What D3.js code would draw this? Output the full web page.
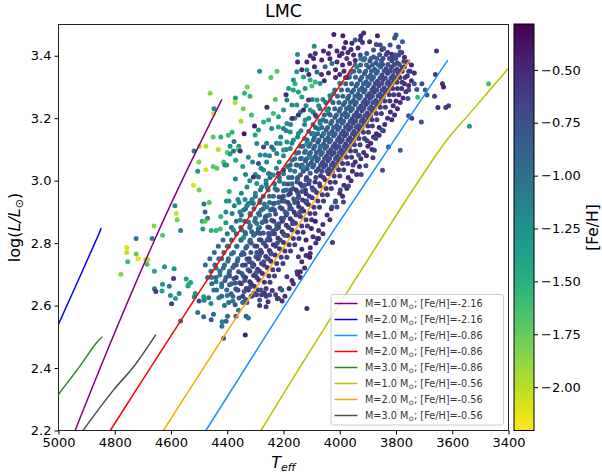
<!DOCTYPE html>
<html>
<head>
<meta charset="utf-8">
<script src="https://cdnjs.cloudflare.com/ajax/libs/d3/7.8.5/d3.min.js"></script>
<style>
    html, body { margin: 0; padding: 0; background: #fff; }
    svg { display: block; }
    text { font-family: "DejaVu Sans", sans-serif; fill: #000; }
    .domain { display: none; }
</style>
</head>
<body>
<svg id="chart" width="602" height="475"></svg>
<script>
const tempTicks = [5000, 4800, 4600, 4400, 4200, 4000, 3800, 3600, 3400];
const lumTicks = [2.2, 2.4, 2.6, 2.8, 3.0, 3.2, 3.4];
const fehTicks = [-0.5, -0.75, -1.0, -1.25, -1.5, -1.75, -2.0];

// evolutionary tracks, [teff, logL]
const track10m216 = [[4941, 2.2], [4804, 2.505], [4656, 2.815], [4561, 3.0], [4419, 3.26]];
const track20m216 = [[5000, 2.54], [4858, 2.826], [4848, 2.848]];
const track10m086 = [[4476, 2.2], [4141, 2.676], [4043, 2.812], [3830, 3.098], [3616, 3.386]];
const track20m086 = [[4816, 2.2], [4591, 2.516], [4366, 2.826], [4141, 3.119], [3951, 3.368]];
const track30m086 = [[5000, 2.316], [4930, 2.399], [4864, 2.482], [4844, 2.5]];
const track10m056 = [[4280, 2.2], [4141, 2.404], [3844, 2.826], [3726, 2.99], [3619, 3.13], [3536, 3.217], [3400, 3.36]];
const track20m056 = [[4627, 2.2], [4378, 2.548], [4170, 2.826], [3980, 3.087], [3750, 3.388]];
const track30m056 = [[4913, 2.2], [4804, 2.33], [4733, 2.404], [4654, 2.507]];

const trackNames = ['1.0|-2.16', '2.0|-2.16', '1.0|-0.86', '2.0|-0.86', '3.0|-0.86', '1.0|-0.56', '2.0|-0.56', '3.0|-0.56'];
const trackColors = ['#800080', '#0000ff', '#1e90ff', '#ff0000', '#228b22', '#bfbf00', '#ffa500', '#4d4d4d'];

// crowded part of the ridge, one list per metallicity, [teff, logL]
const ridgeDeep = [
    [3850, 3.42], [3830, 3.41], [3815, 3.405], [3780, 3.41], [3770, 3.395], [3760, 3.38], [3745, 3.37], [3770, 3.365], [3750, 3.35],
    [3735, 3.345], [3760, 3.335], [3745, 3.32], [3770, 3.31], [3755, 3.305], [3780, 3.295], [3765, 3.285], [3790, 3.275], [3775, 3.265],
    [3800, 3.255], [3785, 3.25], [3810, 3.24], [3795, 3.23], [3820, 3.22], [3805, 3.21], [3830, 3.2], [3815, 3.195], [3840, 3.18],
    [3860, 3.17], [3845, 3.16], [3870, 3.15], [3880, 3.14], [3860, 3.145], [3890, 3.12], [3900, 3.11], [3885, 3.10], [3915, 3.09],
    [3905, 3.08], [3925, 3.07], [3945, 3.06], [3930, 3.045], [3955, 3.03], [3940, 3.02], [3970, 3.01], [3960, 3.0], [3985, 2.985],
    [3975, 2.975], [4000, 2.96], [3990, 2.95], [4015, 2.935], [4030, 2.91], [4045, 2.89], [4035, 2.875], [4060, 2.86], [4075, 2.84],
    [4060, 2.83], [4095, 2.82], [4085, 2.80], [4105, 2.785], [4120, 2.76], [4135, 2.74], [4125, 2.72], [4150, 2.70], [4140, 2.69],
    [4165, 2.67], [4180, 2.655], [4195, 2.63], [4205, 2.615]
];
const ridgeLower = [
    [4040, 3.022], [4068, 3.016], [4052, 3.003], [4088, 2.996], [4070, 2.983], [4098, 2.977], [4082, 2.962], [4120, 2.958], [4098, 2.945],
    [4132, 2.938], [4112, 2.924], [4146, 2.917], [4128, 2.903], [4162, 2.899], [4140, 2.885], [4176, 2.878], [4158, 2.864], [4190, 2.857],
    [4170, 2.842], [4205, 2.836], [4186, 2.824], [4220, 2.816], [4200, 2.802], [4236, 2.795], [4214, 2.782], [4250, 2.776], [4230, 2.762],
    [4263, 2.757], [4245, 2.742], [4278, 2.735], [4258, 2.722], [4292, 2.716], [4275, 2.703], [4306, 2.696], [4288, 2.682], [4320, 2.676],
    [4304, 2.662], [4332, 2.655], [4268, 2.64], [4240, 2.648], [4296, 2.635], [4222, 2.622], [4255, 2.612]
];
const ridgeRight = [
    [3790, 3.402], [3812, 3.397], [3835, 3.404], [3772, 3.382], [3795, 3.377], [3815, 3.384], [3778, 3.362], [3797, 3.357], [3816, 3.364],
    [3835, 3.358], [3792, 3.342], [3811, 3.337], [3830, 3.344], [3850, 3.338], [3808, 3.322], [3827, 3.317], [3846, 3.324], [3866, 3.318],
    [3822, 3.302], [3842, 3.297], [3861, 3.304], [3880, 3.298], [3838, 3.282], [3857, 3.277], [3877, 3.284], [3895, 3.278], [3852, 3.262],
    [3872, 3.257], [3892, 3.264], [3910, 3.258], [3868, 3.242], [3888, 3.237], [3907, 3.244], [3925, 3.238], [3884, 3.222], [3902, 3.217],
    [3921, 3.224], [3940, 3.218], [3899, 3.202], [3918, 3.197], [3937, 3.204], [3956, 3.198], [3914, 3.182], [3933, 3.177], [3952, 3.184],
    [3971, 3.178], [3930, 3.162], [3949, 3.157], [3968, 3.164], [3987, 3.158], [3945, 3.142], [3964, 3.137], [3983, 3.144], [4002, 3.138],
    [3960, 3.122], [3979, 3.117], [3998, 3.124], [4017, 3.118], [3975, 3.102], [3994, 3.097], [4013, 3.104], [4032, 3.098], [3990, 3.082],
    [4009, 3.077], [4028, 3.084], [4047, 3.078], [4004, 3.062], [4023, 3.057], [4042, 3.064], [4061, 3.058], [4019, 3.042], [4038, 3.037],
    [4057, 3.044], [4076, 3.038]
];
const ridgeMiddle = [
    [3858, 3.403], [3880, 3.396], [3852, 3.384], [3872, 3.377], [3893, 3.383], [3855, 3.364], [3876, 3.357], [3897, 3.363], [3870, 3.344],
    [3891, 3.337], [3912, 3.343], [3886, 3.324], [3906, 3.317], [3927, 3.323], [3901, 3.304], [3921, 3.297], [3942, 3.303], [3915, 3.284],
    [3936, 3.277], [3957, 3.283], [3931, 3.264], [3951, 3.257], [3972, 3.263], [3946, 3.244], [3966, 3.237], [3987, 3.243], [3961, 3.224],
    [3981, 3.217], [4002, 3.223], [3976, 3.204], [3996, 3.197], [4017, 3.203], [3991, 3.184], [4011, 3.177], [4032, 3.183], [4007, 3.164],
    [4027, 3.157], [4048, 3.163], [4022, 3.144], [4042, 3.137], [4063, 3.143], [4037, 3.124], [4057, 3.117], [4078, 3.123], [4052, 3.104],
    [4072, 3.097], [4093, 3.103], [4067, 3.084], [4087, 3.077], [4108, 3.083], [4081, 3.064], [4101, 3.057], [4122, 3.063], [4096, 3.044],
    [4116, 3.037], [4137, 3.043],
    [4105, 3.024], [4140, 3.018], [4170, 3.01], [4120, 3.003], [4152, 2.996], [4184, 2.989], [4134, 2.982], [4166, 2.975], [4200, 2.968],
    [4150, 2.962], [4182, 2.955], [4216, 2.948], [4164, 2.941], [4196, 2.934], [4232, 2.928], [4178, 2.921], [4212, 2.914], [4246, 2.907],
    [4194, 2.9], [4228, 2.893], [4260, 2.887], [4208, 2.88], [4242, 2.873], [4276, 2.866], [4224, 2.859], [4256, 2.852], [4290, 2.846],
    [4238, 2.839], [4272, 2.832], [4306, 2.825], [4252, 2.818], [4286, 2.811], [4320, 2.805], [4268, 2.798], [4302, 2.791], [4334, 2.784],
    [4282, 2.777], [4316, 2.77], [4350, 2.763], [4298, 2.756], [4330, 2.749], [4364, 2.743], [4312, 2.736], [4346, 2.729], [4380, 2.722],
    [4326, 2.715], [4360, 2.708], [4394, 2.701], [4342, 2.694], [4376, 2.687], [4408, 2.68], [4356, 2.673], [4392, 2.667], [4318, 2.66],
    [4370, 2.653], [4340, 2.645], [4386, 2.638], [4310, 2.632], [4358, 2.624], [4285, 2.618], [4330, 2.61], [4372, 2.603]
];
const ridgeTeal = [
    [3925, 3.39], [3945, 3.37], [3960, 3.35], [3980, 3.33], [4000, 3.312], [4018, 3.29], [4035, 3.272], [4050, 3.25], [4070, 3.23],
    [4040, 3.215], [4082, 3.205], [4060, 3.195], [4095, 3.18], [4075, 3.165], [4110, 3.158], [4090, 3.14], [4125, 3.135], [4105, 3.118],
    [4140, 3.11], [4122, 3.095], [4155, 3.088], [4136, 3.072], [4170, 3.065], [4150, 3.05], [4186, 3.045], [4160, 3.03], [4200, 3.022],
    [4214, 2.998], [4230, 2.975], [4250, 2.95], [4268, 2.925], [4280, 2.905], [4300, 2.88], [4318, 2.856], [4336, 2.834], [4352, 2.81],
    [4366, 2.79], [4385, 2.765], [4398, 2.742], [4414, 2.72], [4426, 2.698], [4440, 2.676], [4420, 2.66], [4448, 2.65], [4400, 2.632],
    [4430, 2.625], [4466, 2.625], [4380, 2.615], [4410, 2.6], [4360, 2.585], [4455, 2.69], [4420, 2.75], [4395, 2.79], [4440, 2.72]
];

// second pass over the same area, read row by row, [logL, [teff, ...]]
const fillCoreDark = [
    [3.391, [3801, 3823, 3846]], [3.372, [3788, 3806, 3829, 3848]], [3.351, [3786, 3805, 3821, 3842]], [3.329, [3801, 3818, 3838, 3857]],
    [3.311, [3813, 3832, 3851, 3874]], [3.29, [3828, 3849, 3868, 3886]], [3.271, [3845, 3864, 3884, 3903]], [3.25, [3859, 3881, 3899, 3917]],
    [3.231, [3876, 3894, 3914, 3933]], [3.209, [3890, 3910, 3928, 3949]], [3.19, [3905, 3924, 3944, 3963]], [3.171, [3921, 3941, 3960, 3979]],
    [3.15, [3936, 3955, 3976, 3995]], [3.13, [3951, 3971, 3991, 4008]], [3.109, [3966, 3985, 4004, 4024]], [3.09, [3982, 4001, 4020, 4041]],
    [3.071, [3996, 4015, 4036, 4054]], [3.05, [4011, 4030, 4050, 4068]], [3.03, [4026, 4045, 4064, 4083]]
];
const fillCoreBlue = [
    [3.391, [3868, 3889, 3911]], [3.37, [3862, 3884, 3905, 3926]], [3.35, [3866, 3887, 3908, 3930, 3950]], [3.331, [3880, 3900, 3922, 3944, 3966]],
    [3.31, [3895, 3916, 3937, 3958, 3979]], [3.29, [3910, 3930, 3951, 3972, 3994]], [3.27, [3926, 3946, 3968, 3989, 4008]],
    [3.25, [3941, 3962, 3982, 4003, 4024]], [3.23, [3955, 3976, 3998, 4018, 4040]], [3.21, [3971, 3992, 4012, 4034, 4055]],
    [3.19, [3986, 4006, 4028, 4049, 4070]], [3.17, [4001, 4022, 4043, 4064, 4086]], [3.15, [4016, 4038, 4058, 4079, 4100]],
    [3.13, [4032, 4052, 4074, 4094, 4116]], [3.11, [4046, 4068, 4089, 4110, 4131]], [3.09, [4062, 4083, 4104, 4125, 4146]],
    [3.07, [4076, 4098, 4118, 4140, 4160]], [3.05, [4092, 4112, 4134, 4155, 4176]]
];
const fillOrange = [
    [3.35, [3755, 3778]], [3.33, [3768, 3786]], [3.315, [3778, 3796]], [3.295, [3795, 3812]], [3.275, [3808, 3824]], [3.255, [3822, 3840]],
    [3.235, [3838, 3856]], [3.215, [3852, 3870]], [3.195, [3868, 3886]], [3.175, [3884, 3900]], [3.155, [3898, 3916]], [3.135, [3912, 3932]],
    [3.115, [3928, 3948]], [3.095, [3944, 3962]], [3.075, [3958, 3976]], [3.055, [3972, 3990]], [3.035, [3986, 4004]], [3.015, [4000, 4020]],
    [2.995, [4016, 4034]], [2.975, [4030, 4048]], [2.955, [4044, 4062]], [2.935, [4058, 4078]], [2.915, [4072, 4092]], [2.895, [4088, 4106]],
    [2.875, [4100, 4120]], [2.855, [4115, 4135]], [2.835, [4130, 4150]], [2.815, [4145, 4165]], [2.795, [4160, 4180]], [2.775, [4175, 4195]],
    [2.755, [4188, 4208]], [2.735, [4202, 4224]], [2.715, [4218, 4238]], [2.695, [4232, 4252]], [2.675, [4248, 4268]], [2.655, [4262, 4212]],
    [2.635, [4228, 4278]]
];
const fillLowerDark = [
    [3.01, [4058, 4085, 4118]], [2.99, [4072, 4110, 4140]], [2.97, [4090, 4122, 4155]], [2.95, [4108, 4146]], [2.93, [4120, 4150, 4184]],
    [2.91, [4135, 4172, 4205]], [2.89, [4155, 4190]], [2.87, [4168, 4204, 4235]], [2.85, [4182, 4218, 4250]], [2.83, [4200, 4232]],
    [2.81, [4212, 4248, 4280]], [2.79, [4228, 4262, 4295]], [2.77, [4246, 4278]], [2.75, [4255, 4290, 4322]], [2.73, [4270, 4305, 4336]],
    [2.71, [4285, 4320]], [2.69, [4295, 4335, 4368]], [2.67, [4315, 4350]], [2.65, [4290, 4325, 4362]], [2.63, [4262, 4315, 4345]]
];
const fillLowerBlue = [
    [3.01, [4150, 4182, 4215, 4248]], [2.99, [4170, 4198, 4232, 4262]], [2.97, [4190, 4222, 4255, 4282]], [2.95, [4200, 4236, 4272, 4300]],
    [2.93, [4218, 4250, 4285, 4315]], [2.91, [4238, 4272, 4305, 4335]], [2.89, [4250, 4285, 4318, 4350]], [2.87, [4270, 4302, 4338, 4368]],
    [2.85, [4285, 4320, 4352, 4385]], [2.83, [4300, 4335, 4368, 4400]], [2.81, [4318, 4350, 4385, 4415]], [2.79, [4330, 4366, 4400, 4432]],
    [2.77, [4345, 4378, 4412, 4446]], [2.75, [4362, 4396, 4430, 4462]], [2.73, [4375, 4410, 4444, 4478]], [2.71, [4392, 4426, 4458]],
    [2.69, [4405, 4440, 4470]], [2.67, [4385, 4420, 4455]], [2.65, [4402, 4438]], [2.63, [4380, 4420]], [2.61, [4345, 4395]]
];
const fillLeftTeal = [
    [3.26, [4060, 4098]], [3.24, [4075, 4120]], [3.22, [4095, 4140]], [3.2, [4110, 4160]], [3.18, [4125, 4175]], [3.16, [4138, 4190]],
    [3.14, [4150, 4210]], [3.12, [4170, 4225, 4260]], [3.1, [4190, 4235]], [3.08, [4200, 4250]], [3.06, [4215, 4260, 4310]], [3.04, [4225, 4280]],
    [3.02, [4245, 4300, 4335]], [3.0, [4262, 4320]], [2.98, [4278, 4330]], [2.96, [4300, 4350]], [2.94, [4312, 4362]], [2.92, [4330, 4375]],
    [2.9, [4355, 4405]]
];
const topDark = [
    [3935, 3.425], [3960, 3.42], [3985, 3.425], [4010, 3.415], [4035, 3.39], [3945, 3.385], [3965, 3.375], [3990, 3.37], [4015, 3.355], [4040, 3.345],
    [4065, 3.34], [4090, 3.365], [4110, 3.34], [3985, 3.35], [4015, 3.33], [3975, 3.33], [4000, 3.34], [4135, 3.355], [4055, 3.32], [4150, 3.38]
];
const lowerScatter = [
    [4108, 3.0], [4135, 2.965], [4160, 2.93], [4188, 2.895], [4216, 2.862], [4245, 2.828], [4272, 2.8], [4295, 2.77], [4322, 2.74], [4348, 2.703],
    [4372, 2.672], [4150, 3.005], [4175, 2.97], [4205, 2.935], [4232, 2.905], [4262, 2.87], [4290, 2.835], [4315, 2.8], [4340, 2.765], [4368, 2.73],
    [4392, 2.695], [4305, 2.64], [4335, 2.62], [4280, 2.65], [4125, 2.985], [4148, 2.945], [4178, 2.91], [4200, 2.88], [4226, 2.845], [4258, 2.81],
    [4285, 2.76], [4310, 2.725], [4338, 2.68], [4365, 2.65], [4130, 3.03], [4095, 2.97], [4118, 2.935], [4142, 2.9], [4168, 2.862], [4196, 2.825],
    [4222, 2.8], [4244, 2.765], [4270, 2.74], [4298, 2.705]
];

// stars that can be told apart, [teff, logL, [Fe/H]]
const looseStars = [
    [4461, 3.28, -1.85], [4447, 3.23, -1.2], [4449, 3.215, -2.1], [4371, 3.265, -1.4], [4372, 3.25, -2.0], [4339, 3.28, -1.55], [4329, 3.30, -1.8],
    [4319, 3.27, -1.55], [4343, 3.23, -1.8], [4314, 3.21, -1.6], [4351, 3.19, -1.95], [4285, 3.35, -1.2], [4245, 3.33, -1.7], [4223, 3.35, -1.7],
    [4229, 3.26, -1.7], [4191, 3.275, -0.5], [4259, 3.235, -0.5], [4303, 3.175, -0.4], [4340, 3.15, -0.4], [4383, 3.155, -1.5], [4396, 3.145, -1.6],
    [4423, 3.14, -1.5], [4450, 3.14, -1.7], [4518, 3.095, -1.05], [4499, 3.11, -2.0], [4476, 3.11, -2.0], [4432, 3.10, -2.0], [4376, 3.125, -1.0],
    [4390, 3.11, -1.3], [4359, 3.11, -1.3], [4361, 3.10, -1.7], [4354, 3.095, -0.5], [4400, 3.09, -1.7], [4390, 3.085, -1.35], [4378, 3.095, -1.0],
    [4501, 3.06, -1.85], [4413, 3.06, -1.65], [4370, 3.065, -1.4], [4450, 3.045, -1.7], [4437, 3.04, -1.7], [4476, 3.035, -2.1], [4505, 3.03, -1.3],
    [4409, 3.05, -1.2], [4402, 3.05, -1.3], [4345, 3.045, -1.4], [4325, 3.075, -1.2], [4520, 2.985, -2.1], [4500, 2.97, -1.8], [4371, 3.005, -1.2],
    [4393, 2.965, -1.5], [4403, 2.935, -1.3], [4394, 2.935, -1.3], [4358, 2.93, -1.2], [4337, 2.94, -1.2], [4464, 2.93, -1.7], [4483, 2.925, -1.05],
    [4479, 2.90, -0.9], [4586, 2.92, -1.2], [4581, 2.895, -2.05], [4578, 2.875, -1.8], [4470, 2.88, -1.15], [4489, 2.87, -1.4], [4479, 2.87, -1.7],
    [4423, 2.885, -1.5], [4405, 2.865, -1.3], [4383, 2.895, -1.1], [4487, 2.845, -1.3], [4457, 2.84, -1.5], [4440, 2.84, -1.55], [4425, 2.845, -1.6],
    [4566, 2.84, -1.15], [4660, 2.855, -1.85], [4630, 2.825, -1.7], [4724, 2.815, -1.1], [4667, 2.815, -1.1],
    [4757, 2.786, -2.1], [4757, 2.77, -2.05], [4724, 2.765, -1.75], [4754, 2.74, -1.6], [4717, 2.75, -2.1], [4690, 2.747, -1.95], [4682, 2.747, -2.0],
    [4685, 2.732, -1.6], [4778, 2.70, -1.85], [4659, 2.71, -1.4], [4623, 2.724, -1.3], [4589, 2.718, -1.3], [4591, 2.687, -0.6], [4659, 2.654, -1.05],
    [4654, 2.645, -0.6], [4630, 2.668, -1.3], [4632, 2.647, -1.35], [4606, 2.662, -1.1], [4602, 2.632, -1.3], [4584, 2.623, -1.4], [4598, 2.606, -0.6],
    [4571, 2.639, -1.2], [4546, 2.685, -1.35], [4537, 2.668, -1.5], [4530, 2.674, -1.45], [4540, 2.663, -1.4], [4514, 2.639, -1.3], [4517, 2.628, -1.2],
    [4500, 2.615, -0.7], [4484, 2.628, -1.3], [4482, 2.617, -1.1], [4458, 2.607, -1.2], [4505, 2.578, -1.0], [4484, 2.564, -0.9], [4457, 2.555, -0.8],
    [4449, 2.572, -0.9], [4566, 2.551, -1.05], [4418, 2.548, -1.1], [4419, 2.534, -1.05], [4404, 2.55, -0.9], [4399, 2.566, -0.9], [4369, 2.566, -0.8],
    [4333, 2.566, -0.85], [4325, 2.56, -1.0], [4336, 2.506, -0.45], [4413, 2.495, -0.8], [4262, 2.596, -0.6], [4285, 2.6, -0.55], [4206, 2.65, -0.9],
    [4218, 2.623, -0.65], [4250, 2.634, -0.7], [4188, 2.692, -0.6], [4170, 2.68, -0.5], [4152, 2.708, -0.6], [4147, 2.756, -0.6],
    [4021, 3.468, -0.45], [3989, 3.464, -0.45], [3915, 3.473, -0.5], [3925, 3.463, -0.5], [3866, 3.464, -0.45], [3800, 3.466, -0.75], [3805, 3.457, -0.75],
    [3777, 3.445, -0.85], [3979, 3.442, -0.45], [3957, 3.44, -0.5], [3945, 3.45, -0.8], [3927, 3.45, -0.5], [3919, 3.442, -0.6], [3894, 3.445, -0.55],
    [3870, 3.436, -0.7], [4091, 3.43, -1.2], [4034, 3.43, -0.5], [4058, 3.415, -0.5], [3971, 3.41, -0.5], [4001, 3.40, -0.5], [4087, 3.407, -0.55],
    [4105, 3.40, -0.5], [4117, 3.38, -0.5], [3656, 3.415, -0.55], [3660, 3.34, -0.6], [3635, 3.31, -0.55], [3631, 3.30, -0.45], [3663, 3.27, -0.6],
    [3651, 3.234, -0.5], [3623, 3.234, -0.6], [3613, 3.24, -0.6], [3708, 3.31, -0.8], [3696, 3.29, -0.85], [3723, 3.267, -1.6], [3690, 3.274, -0.85],
    [3710, 3.188, -0.8], [3735, 3.31, -0.85], [3726, 3.292, -0.8], [3755, 3.29, -0.7], [3758, 3.263, -0.7], [3744, 3.2, -0.6], [3755, 3.208, -0.75],
    [3785, 3.097, -0.85], [3827, 3.108, -0.9], [3848, 3.033, -0.7], [3924, 3.02, -0.7], [3907, 3.048, -0.7], [3877, 3.097, -0.6], [3882, 3.073, -0.6],
    [3872, 3.135, -0.7], [3850, 3.162, -0.8], [3903, 3.128, -0.6], [3933, 3.082, -0.8], [3953, 3.05, -0.6], [3969, 2.983, -0.7], [3987, 2.932, -0.7],
    [4016, 2.932, -0.8], [4010, 2.916, -0.7], [3998, 2.97, -0.7], [4028, 2.916, -0.7], [4087, 2.87, -0.4], [4101, 2.847, -0.45], [4075, 2.815, -0.6],
    [4026, 2.802, -0.6], [4079, 2.815, -0.5], [4105, 2.767, -0.5], [4107, 2.755, -0.45], [4117, 2.591, -0.5], [4135, 2.78, -0.5], [4140, 2.708, -0.5],
    [4120, 2.81, -0.45], [3471, 3.31, -1.65], [3539, 3.174, -1.3],
    [4295, 3.119, -1.2], [4271, 3.108, -0.7], [4242, 3.108, -0.9], [4212, 3.119, -1.2], [4188, 3.124, -1.3], [4165, 3.13, -1.2], [4283, 3.082, -1.2],
    [4265, 3.082, -1.2], [4224, 3.087, -1.1], [4200, 3.098, -1.3], [4176, 3.103, -1.2], [4289, 3.055, -0.7], [4307, 3.012, -0.5], [4289, 3.012, -1.0],
    [4271, 3.034, -1.2], [4253, 3.023, -1.0], [4236, 3.018, -1.2], [4218, 3.023, -0.55], [4200, 3.034, -0.6], [4176, 3.034, -1.1], [4295, 2.991, -1.3],
    [4259, 2.98, -1.1], [4224, 2.97, -0.9], [4325, 2.927, -1.1], [4307, 2.927, -1.0], [4283, 2.938, -1.0], [4259, 2.916, -1.1], [4236, 2.927, -0.8],
    [4206, 2.948, -0.7], [4176, 2.959, -0.6], [4342, 2.906, -1.1], [4319, 2.895, -1.05], [4289, 2.895, -0.9], [4265, 2.884, -0.8], [4354, 2.874, -1.15],
    [4325, 2.868, -1.0], [4295, 2.863, -1.0], [4378, 2.842, -1.2], [4348, 2.842, -1.1], [4313, 2.836, -0.9], [4283, 2.831, -0.8], [4253, 2.831, -0.7],
    [4342, 2.818, -1.2], [4165, 3.29, -1.4], [4182, 3.295, -1.35], [4159, 3.31, -1.5], [4188, 3.258, -1.1], [4170, 3.242, -1.2], [4200, 3.226, -1.3],
    [4218, 3.205, -1.4], [4236, 3.215, -1.6], [4271, 3.188, -1.5], [4253, 3.194, -1.45], [4289, 3.162, -1.25], [4301, 3.146, -1.4], [4242, 3.167, -1.2],
    [4218, 3.172, -1.4], [4188, 3.183, -1.2], [4170, 3.199, -0.5], [4147, 3.21, -0.55], [4153, 3.242, -1.2], [4147, 3.284, -1.35], [4153, 3.349, -1.3],
    [4150, 3.404, -1.2], [4165, 3.322, -1.3], [4200, 3.167, -1.05], [4176, 3.156, -1.3], [4147, 3.151, -1.2],
    [4129, 3.332, -1.4], [4105, 3.322, -1.5], [4087, 3.316, -1.55], [4070, 3.311, -1.3], [4099, 3.303, -1.65], [4123, 3.295, -1.25], [4081, 3.348, -0.95],
    [4117, 3.354, -1.2], [4052, 3.365, -0.9], [4028, 3.375, -1.0], [4064, 3.386, -0.5], [4093, 3.391, -0.5], [4010, 3.38, -0.5], [3975, 3.391, -0.6],
    [3951, 3.402, -0.55], [4040, 3.407, -0.5], [3992, 3.407, -0.5], [3927, 3.402, -0.75], [3904, 3.407, -0.8], [3880, 3.418, -0.75], [3844, 3.423, -0.8],
    [3821, 3.434, -0.75], [3856, 3.434, -0.7], [3791, 3.428, -0.7], [3785, 3.412, -0.75], [3803, 3.402, -0.8],
    [4022, 3.279, -1.2], [4034, 3.258, -1.2], [3998, 3.311, -1.2], [4046, 3.226, -1.25], [3963, 3.343, -1.1], [3939, 3.364, -1.15], [3915, 3.386, -1.05],
    [4070, 3.183, -1.2], [4093, 3.151, -1.2], [4117, 3.119, -1.2], [4058, 3.151, -1.1], [4070, 3.108, -1.05], [4105, 3.076, -1.15], [4129, 3.044, -1.2],
    [4123, 3.194, -1.25], [4105, 3.226, -1.3], [4081, 3.258, -1.3], [4135, 3.268, -1.4], [4129, 3.226, -0.5], [4111, 3.258, -0.6], [4087, 3.21, -0.6]
];

const rows = list => list.flatMap(([logL, teffs]) => teffs.map(t => [t, logL]));

const ridgeGroups = [
    [ridgeDeep, -0.52], [ridgeLower, -0.56], [ridgeRight, -0.66], [ridgeMiddle, -0.8], [ridgeTeal, -1.05],
    [rows(fillCoreDark), -0.72], [rows(fillCoreBlue), -0.88], [rows(fillLowerDark), -0.62], [rows(fillLowerBlue), -0.95],
    [rows(fillOrange), -0.6], [lowerScatter, -0.78], [rows(fillLeftTeal), -1.18], [topDark, -0.5]
];

const tracks = [track10m216, track20m216, track10m086, track20m086, track30m086, track10m056, track20m056, track30m056];
const stars = ridgeGroups
    .flatMap(([list, feh]) => list.map(d => [d[0], d[1], feh]))
    .concat(looseStars);

const margin = { top: 24.5, left: 58.5, bottom: 430.5, right: 508.5 };
const bar = { x: 514, width: 20, top: 24, bottom: 430.5 };
const fehDomain = [-2.205, -0.283];

const svg = d3.select('#chart');

const x = d3.scaleLinear().domain([5000, 3400]).range([margin.left, margin.right]);
const y = d3.scaleLinear().domain([2.2, 3.5]).range([margin.bottom, margin.top]);
const fehY = d3.scaleLinear().domain(fehDomain).range([bar.bottom, bar.top]);
const fehColor = d3.scaleSequential(t => d3.interpolateViridis(1 - t)).domain(fehDomain);

svg.append('clipPath').attr('id', 'plot-clip').append('rect')
    .attr('x', margin.left).attr('y', margin.top)
    .attr('width', margin.right - margin.left).attr('height', margin.bottom - margin.top);

const plot = svg.append('g').attr('clip-path', 'url(#plot-clip)');

plot.selectAll('circle')
    .data(stars)
    .enter()
    .append('circle')
    .attr('cx', d => x(d[0]))
    .attr('cy', d => y(d[1]))
    .attr('r', 2.5)
    .attr('fill', d => fehColor(d[2]));

const line = d3.line().curve(d3.curveCatmullRom).x(d => x(d[0])).y(d => y(d[1]));

plot.selectAll('path.track')
    .data(tracks)
    .enter()
    .append('path')
    .attr('class', 'track')
    .attr('d', line)
    .attr('fill', 'none')
    .attr('stroke', (d, i) => trackColors[i])
    .attr('stroke-width', 1.5);

// frame
svg.append('rect')
    .attr('x', margin.left).attr('y', margin.top)
    .attr('width', margin.right - margin.left).attr('height', margin.bottom - margin.top)
    .attr('fill', 'none').attr('stroke', '#222').attr('stroke-width', 1);

const xAxis = svg.append('g')
    .attr('transform', `translate(0,${margin.bottom})`)
    .call(d3.axisBottom(x).tickValues(tempTicks).tickSize(4).tickPadding(3).tickFormat(d3.format('d')));
const yAxis = svg.append('g')
    .attr('transform', `translate(${margin.left},0)`)
    .call(d3.axisLeft(y).tickValues(lumTicks).tickSize(4).tickPadding(3).tickFormat(d3.format('.1f')));

// colorbar
const gradient = svg.append('linearGradient')
    .attr('id', 'feh-gradient').attr('x1', 0).attr('x2', 0).attr('y1', 1).attr('y2', 0);
d3.range(0, 1.001, 0.05).forEach(t => {
    gradient.append('stop')
        .attr('offset', t)
        .attr('stop-color', d3.interpolateViridis(1 - t));
});
svg.append('rect')
    .attr('x', bar.x).attr('y', bar.top)
    .attr('width', bar.width).attr('height', bar.bottom - bar.top)
    .attr('fill', 'url(#feh-gradient)')
    .attr('stroke', '#000').attr('stroke-width', 1);

const fehAxis = svg.append('g')
    .attr('transform', `translate(${bar.x + bar.width},0)`)
    .call(d3.axisRight(fehY).tickValues(fehTicks).tickSize(4).tickPadding(3).tickFormat(d3.format('.2f')));

[xAxis, yAxis, fehAxis].forEach(axis => {
    axis.selectAll('text').attr('font-size', 13).attr('font-family', '"DejaVu Sans", sans-serif');
    axis.selectAll('line').attr('stroke', '#000');
});

// title and axis labels
svg.append('text')
    .attr('x', 283.5).attr('y', 17)
    .attr('text-anchor', 'middle').attr('font-size', 17.5)
    .text('LMC');

const xLabel = svg.append('text')
    .attr('x', 283.5).attr('y', 468)
    .attr('text-anchor', 'middle').attr('font-size', 16);
xLabel.append('tspan').attr('font-style', 'italic').text('T');
xLabel.append('tspan').attr('font-style', 'italic').attr('font-size', 11).attr('dy', 3).text('eff');

const yLabel = svg.append('text')
    .attr('transform', 'translate(20,227.5) rotate(-90)')
    .attr('text-anchor', 'middle').attr('font-size', 16);
yLabel.append('tspan').text('log(');
yLabel.append('tspan').attr('font-style', 'italic').text('L/L');
yLabel.append('tspan').attr('font-size', 11).attr('dy', 3).text('\u2299');
yLabel.append('tspan').attr('dy', -3).text(')');

svg.append('text')
    .attr('transform', 'translate(598,227.5) rotate(-90)')
    .attr('text-anchor', 'middle').attr('font-size', 15.5)
    .text('[Fe/H]');

// legend
const legend = svg.append('g').attr('transform', 'translate(331,294.5)');
legend.append('rect')
    .attr('width', 172.5).attr('height', 130.5).attr('rx', 2.5)
    .attr('fill', '#fff').attr('fill-opacity', 0.8)
    .attr('stroke', '#ccc').attr('stroke-width', 1);

trackNames.forEach((name, i) => {
    const [mass, feh] = name.split('|');
    const row = legend.append('g').attr('transform', `translate(0,${9 + i * 16})`);
    row.append('line')
        .attr('x1', 3.5).attr('x2', 26.5)
        .attr('stroke', trackColors[i]).attr('stroke-width', 1.5);
    const label = row.append('text')
        .attr('x', 34).attr('y', 3.5)
        .attr('font-size', 9.7).style('fill', '#333');
    label.append('tspan').text(`M=${mass} M`);
    label.append('tspan').attr('font-size', 6.8).attr('dy', 1.5).text('\u2299');
    label.append('tspan').attr('dy', -1.5).text(`; [Fe/H]=${feh}`);
});
</script>
</body>
</html>
